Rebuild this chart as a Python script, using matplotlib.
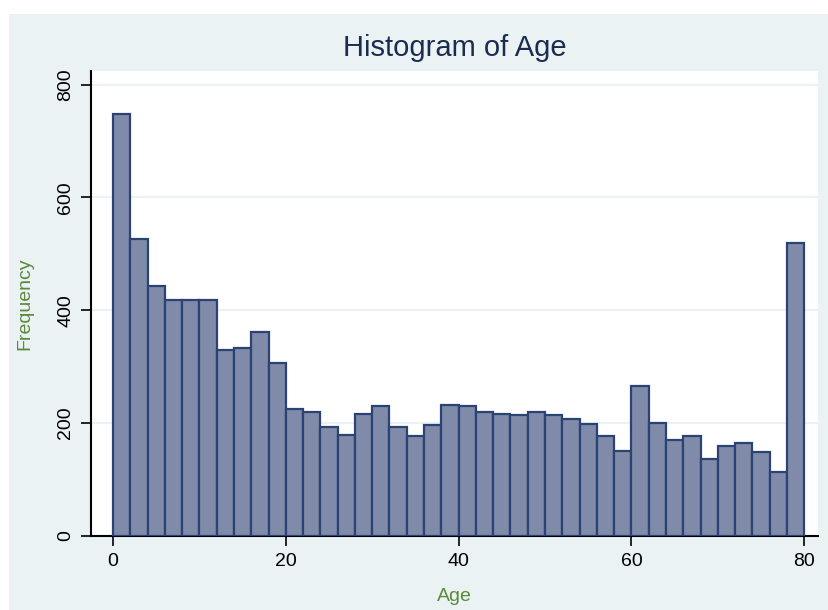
import numpy as np
import matplotlib
matplotlib.use("Agg")
import matplotlib.pyplot as plt
from matplotlib.patches import Rectangle

# Age histogram, bins of width 2 from 0 to 80
binEdges = list(range(0, 82, 2))
counts = [748, 527, 443, 418, 418, 418, 330, 334, 361, 307,
          225, 219, 193, 179, 216, 231, 194, 178, 196, 233,
          230, 219, 216, 214, 219, 214, 208, 198, 177, 150,
          266, 201, 170, 177, 137, 160, 164, 148, 114, 519]
xTicks = [0, 20, 40, 60, 80]
yTicks = [0, 200, 400, 600, 800]

plt.rcParams["font.family"] = ["Liberation Sans", "DejaVu Sans"]

bgColor = "#EAF2F3"
fig = plt.figure(figsize=(8.29, 6.10), dpi=100, facecolor="white")
fig.patches.append(Rectangle((9 / 829, 0), 1, 1 - 14 / 610, transform=fig.transFigure,
                             facecolor=bgColor, edgecolor="none", zorder=-10))

ax = fig.add_axes([91 / 829, 1 - 536 / 610, (818 - 91) / 829, (536 - 71) / 610])
ax.set_facecolor("white")

ax.bar(binEdges[:-1], counts, width=2, align="edge", color="#7F8BA8",
       edgecolor="#2A4274", linewidth=1.6, zorder=3)

ax.set_xlim(-2.55, 81.6)
ax.set_ylim(0, 824)
ax.set_xticks(xTicks)
ax.set_yticks(yTicks)
ax.set_yticklabels([str(v) for v in yTicks], rotation=90, va="center")
ax.tick_params(axis="both", direction="out", length=7, width=1.2, labelsize=14, colors="black", pad=5)
ax.yaxis.grid(True, color=bgColor, linewidth=1.5, zorder=0)
ax.set_axisbelow(True)

for side in ["top", "right"]:
    ax.spines[side].set_visible(False)
ax.spines["left"].set_linewidth(1.5)
ax.spines["bottom"].set_linewidth(1.5)

ax.set_xlabel("Age", color="#5A8A3C", fontsize=14, labelpad=13)
ax.set_ylabel("Frequency", color="#5A8A3C", fontsize=14, labelpad=17)
fig.text(455 / 829, 1 - 48 / 610, "Histogram of Age", ha="center", va="center",
         fontsize=21, color="#1C2C50")

fig.savefig("out.png", dpi=100, facecolor="white")
